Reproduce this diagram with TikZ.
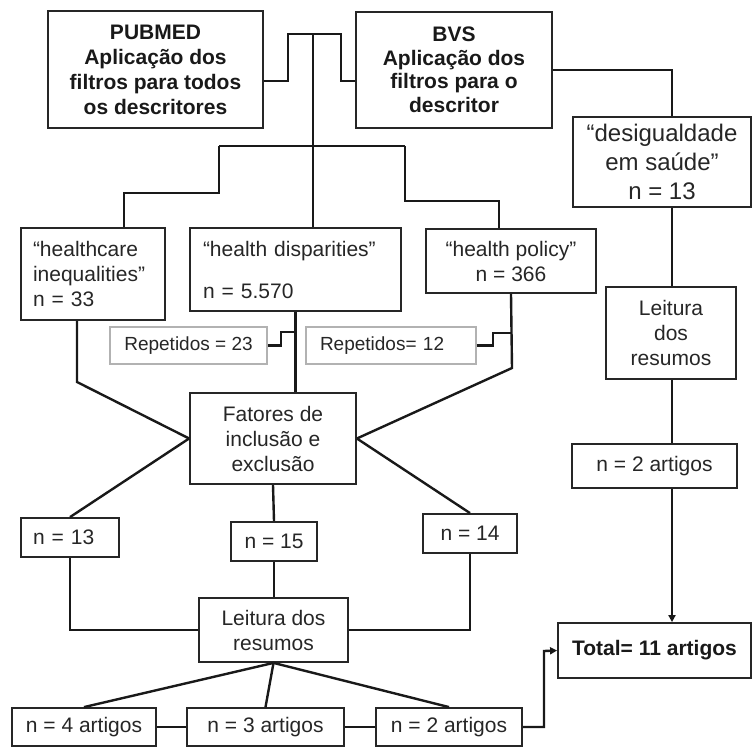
\documentclass[tikz,border=0pt]{standalone}
\usepackage{fontspec}
\setmainfont{Liberation Sans}
\usetikzlibrary{arrows.meta}
\begin{document}
\begin{tikzpicture}[x=1pt,y=-1pt,
  box/.style={draw=black!85, line width=1.8pt, inner sep=0pt, align=center,
    font=\fontsize{21}{25}\selectfont, text=black!85},
  bf/.style={font=\fontsize{21}{25}\selectfont\bfseries, text=black!90},
  rbox/.style={box, draw=black!30, font=\fontsize{19}{23}\selectfont},
  conn/.style={line width=2.4pt, draw=black!90},
  arr/.style={conn, -{Triangle[length=7pt,width=7pt]}}]
\useasboundingbox (0,0) rectangle (753,747);

% boxes
\node[box, bf, minimum width=215, minimum height=117] (pub) at (155.5,69.5)
  {PUBMED\\Aplicação dos\\filtros para todos\\os descritores};
\node[box, font=\fontsize{21}{23.5}\selectfont\bfseries, text=black!90,
  minimum width=196, minimum height=116] (bvs) at (454,70)
  {BVS\\Aplicação dos\\filtros para o\\descritor};
\node[box, font=\fontsize{24}{29}\selectfont, minimum width=178, minimum height=90]
  (des) at (662,162) {“desigualdade\\em saúde”\\n = 13};
\node[box, minimum width=144, minimum height=92, text width=120, align=left,
  inner xsep=12] (hc) at (93,274) {“healthcare\\inequalities”\\n = 33};
\node[box, minimum width=211, minimum height=83, text width=185, align=left,
  inner xsep=13] (hd) at (295.5,269.5) {“health disparities”\\[17pt]n = 5.570};
\node[box, minimum width=170, minimum height=64] (hp) at (511,261)
  {“health policy”\\n = 366};
\node[rbox, minimum width=157, minimum height=37] (r23) at (188.5,345.5)
  {Repetidos = 23};
\node[rbox, minimum width=170, minimum height=37, text width=142, align=left,
  inner xsep=14] (r12) at (391,345.5) {Repetidos= 12};
\node[box, minimum width=166, minimum height=91] (fat) at (273,438.5)
  {Fatores de\\inclusão e\\exclusão};
\node[box, minimum width=130, minimum height=92] (lr) at (671,333)
  {Leitura\\dos\\resumos};
\node[box, minimum width=165, minimum height=44] (n2r) at (654.5,466)
  {n = 2 artigos};
\node[box, minimum width=98, minimum height=39, text width=74, align=left,
  inner xsep=12] (n13) at (70,537.5) {n = 13};
\node[box, minimum width=86, minimum height=39] (n15) at (274,541.5) {n = 15};
\node[box, minimum width=94, minimum height=39] (n14) at (470,533.5) {n = 14};
\node[box, minimum width=149, minimum height=64] (ll) at (273.5,630)
  {Leitura dos\\resumos};
\node[box, bf, minimum width=193, minimum height=55] (tot) at (654.5,650.5)
  {Total= 11 artigos};
\node[box, minimum width=144, minimum height=38] (a4) at (84,727) {n = 4 artigos};
\node[box, minimum width=157, minimum height=38] (a3) at (265.5,727) {n = 3 artigos};
\node[box, minimum width=146, minimum height=38] (a2) at (449,727) {n = 2 artigos};

% bend points
\coordinate (ya) at (0,81);
\coordinate (tl) at (288,34);
\coordinate (tr) at (341,34);
\coordinate (ctop) at (313,34);
\coordinate (b1) at (219,146);
\coordinate (b2) at (405,146);
\coordinate (l1) at (124,193);
\coordinate (r1) at (499,201);
\coordinate (rc) at (672,70);
\coordinate (k1) at (281,332);
\coordinate (k2) at (493,333);
\coordinate (h1) at (77,382);
\coordinate (p1) at (512,368);
\coordinate (m1) at (544,651);

% top connectors
\draw[conn] (pub.east |- ya) -| (tl) -- (tr) |- (bvs.west |- ya);
\draw[conn] (ctop) -- (ctop |- hd.north);
\draw[conn] (b1) -- (b2);
\draw[conn] (b1) |- (l1) -- (l1 |- hc.north);
\draw[conn] (b2) |- (r1) -- (r1 |- hp.north);

% right column
\draw[conn] (bvs.east |- rc) -- (rc) -- (rc |- des.north);
\draw[conn] (rc |- des.south) -- (rc |- lr.north);
\draw[conn] (rc |- lr.south) -- (rc |- n2r.north);
\draw[arr] (rc |- n2r.south) -- (rc |- tot.north);

% middle
\draw[conn] (hd.south) -- (hd.south |- fat.north);
\draw[conn] (r23.east) -| (k1) -- (k1 -| hd.south);
\draw[conn] (r12.east) -| (k2) -- (k2 -| hp.south);
\draw[conn] (h1 |- hc.south) -- (h1) -- (fat.west);
\draw[conn] (hp.south) -- (p1) -- (fat.east);
\draw[conn] (fat.west) -- (n13.north);
\draw[conn] (fat.east) -- (n14.north);
\draw[conn] (fat.south) -- (n15.north);

% lower
\draw[conn] (n13.south) |- (ll.west);
\draw[conn] (n14.south) |- (ll.east);
\draw[conn] (n15.south) -- (n15.south |- ll.north);
\draw[conn] (ll.south) -- (a4.north);
\draw[conn] (ll.south) -- (a3.north);
\draw[conn] (ll.south) -- (a2.north);
\draw[conn] (a4.east) -- (a3.west);
\draw[conn] (a3.east) -- (a2.west);
\draw[arr] (a2.east) -| (m1) -- (tot.west);
\end{tikzpicture}
\end{document}
